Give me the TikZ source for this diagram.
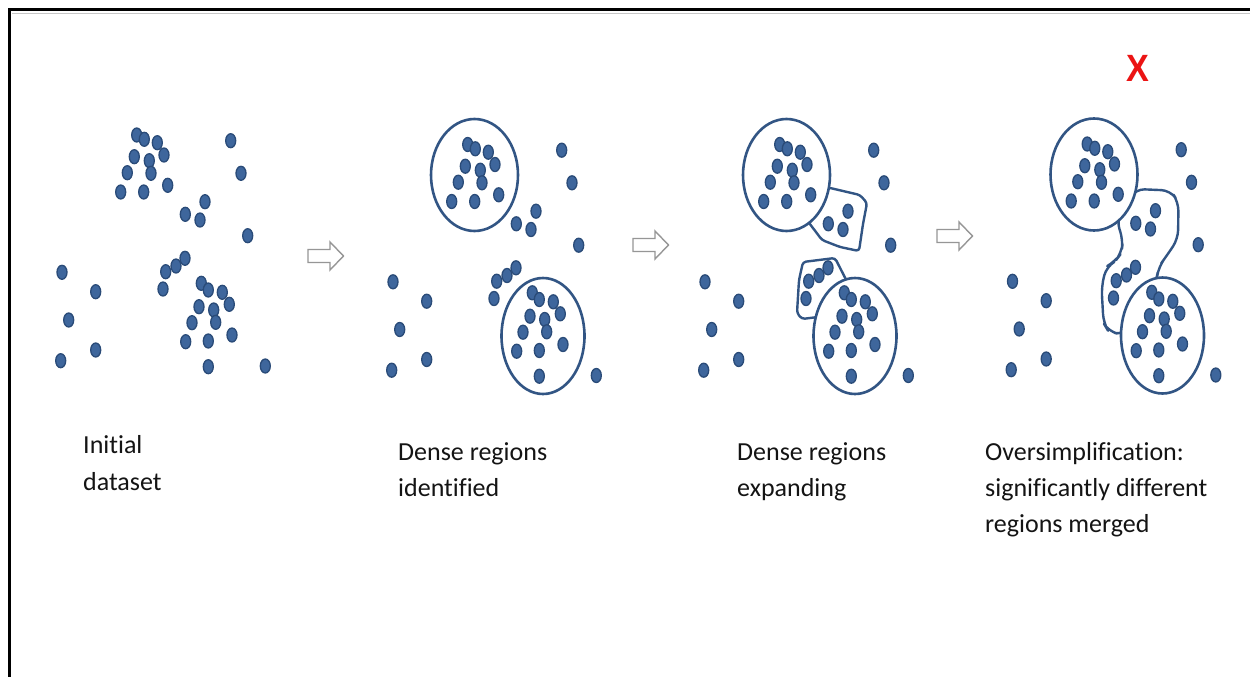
\documentclass[tikz,border=0pt]{standalone}
\usepackage{fontspec}
\setmainfont{Carlito}[Ligatures={NoCommon}]
\newfontfamily\xfont{Liberation Sans}
\definecolor{dotfill}{RGB}{62,102,156}
\definecolor{dotline}{RGB}{42,75,120}
\definecolor{ringblue}{RGB}{50,85,132}
\definecolor{arrowgray}{RGB}{150,150,150}
\definecolor{labtext}{RGB}{20,20,20}
\definecolor{xred}{RGB}{235,20,20}
\newcommand\DotsAll{%
  \foreach \px/\py in {136.7/135,144.3/139.3,157.3/142.7,164/155,134.3/156.7,149.3/160.7,127.3/172.7,151/173.3,120.7/192,143.7/192,167.7/185.3,
    230.7/140.7,241/173.3,205/201.7,185.3/214.3,200/220,247.7/235.7,185/258.3,176/266,165.7/271.7,163/289,
    62/272.3,95.7/291.7,68.7/320,60.7/360.7,95.7/350,
    201.3/283.3,208.3/290,222.3/292.3,229.3/304.3,199/306.7,213.7/310,215.7/322.3,192/322.7,232/335,185.7/341.7,208.3/341,208.3/366.7,
    265.3/366}
  {\draw[dot] (\px,\py) ellipse [x radius=5pt, y radius=7pt];}}
\newcommand\RingsAll{%
  \draw[clus] (143.5,165.5) ellipse [x radius=43.5pt, y radius=56pt];
  \draw[clus] (212,326.5) ellipse [x radius=41.5pt, y radius=58pt];}
\begin{document}
\begin{tikzpicture}[x=1pt,y=-1pt,
  dot/.style={fill=dotfill, draw=dotline, line width=1.3pt},
  clus/.style={draw=ringblue, line width=2.6pt, fill=white},
  region/.style={draw=ringblue, line width=2.4pt, fill=white, line join=round, rounded corners=3pt},
  blob/.style={draw=ringblue, line width=2.4pt, fill=white, line join=round, rounded corners=9pt},
  arrowline/.style={draw=arrowgray, line width=1.4pt, line join=miter},
  lab/.style={anchor=base west, inner sep=0pt, text=labtext, font=\fontsize{26}{30}\selectfont},
  hollowarrow/.pic={\draw[arrowline] (0,-6.5) -- (22,-6.5) -- (22,-14) -- (35.5,0) -- (22,14) -- (22,6.5) -- (0,6.5) -- cycle;}
]
\useasboundingbox (0,0) rectangle (1250,677);
\fill[white] (0,0) rectangle (1250,677);
% frame
\draw[gray!45, line width=1.5pt] (12,13.5) -- (1250,13.5);
\draw[black, line width=3pt] (9.5,677) -- (9.5,9.5) -- (1250,9.5);

% panel 1
\begin{scope}
  \DotsAll
\end{scope}
% panel 2
\begin{scope}[shift={(331,9.5)}]
  \RingsAll
  \DotsAll
\end{scope}
% panel 3
\begin{scope}[shift={(643,9.5)}]
  \draw[region] (185,178) -- (217,185.5) -- (224,193.5) -- (220,214.5) -- (216,241.5) -- (197,237.5) -- (179,230.5) -- (165,212) -- cycle;
  \draw[region] (204,272) -- (192,248.5) -- (160,252.5) -- (156,270.5) -- (154,303.5) -- (159,309.5) -- (175,307.5) -- cycle;
  \RingsAll
  \DotsAll
\end{scope}
% panel 4
\begin{scope}[shift={(950.5,9)}]
  \draw[blob] (185,180) -- (220,181.5) -- (228,193) -- (227.5,230) -- (216,247) -- (208,258) -- (206,272)
     -- (173,326) -- (158,322.5) -- (153,314) -- (151,277.5) -- (156,257.5) -- (164.5,252.5) -- (171,244) -- (172.5,231) -- (166,211) -- cycle;
  \RingsAll
  \DotsAll
\end{scope}

% arrows
\pic (arr1) at (308,256) {hollowarrow};
\pic (arr2) at (633,245) {hollowarrow};
\pic (arr3) at (937,236) {hollowarrow};

% red cross
\node[font=\xfont\bfseries\fontsize{38}{40}\selectfont, text=xred, inner sep=0pt, xscale=0.9] (cross) at (1138,68) {X};

% labels
\node[lab] (l1a) at (83,453) {Initial};
\node[lab] (l1b) at (83,490) {dataset};
\node[lab] (l2a) at (398,460) {Dense regions};
\node[lab] (l2b) at (398,496) {identified};
\node[lab] (l3a) at (737,460) {Dense regions};
\node[lab] (l3b) at (737,496) {expanding};
\node[lab] (l4a) at (985,460) {Oversimplification:};
\node[lab] (l4b) at (985,496) {significantly different};
\node[lab] (l4c) at (985,532) {regions merged};
\end{tikzpicture}
\end{document}
